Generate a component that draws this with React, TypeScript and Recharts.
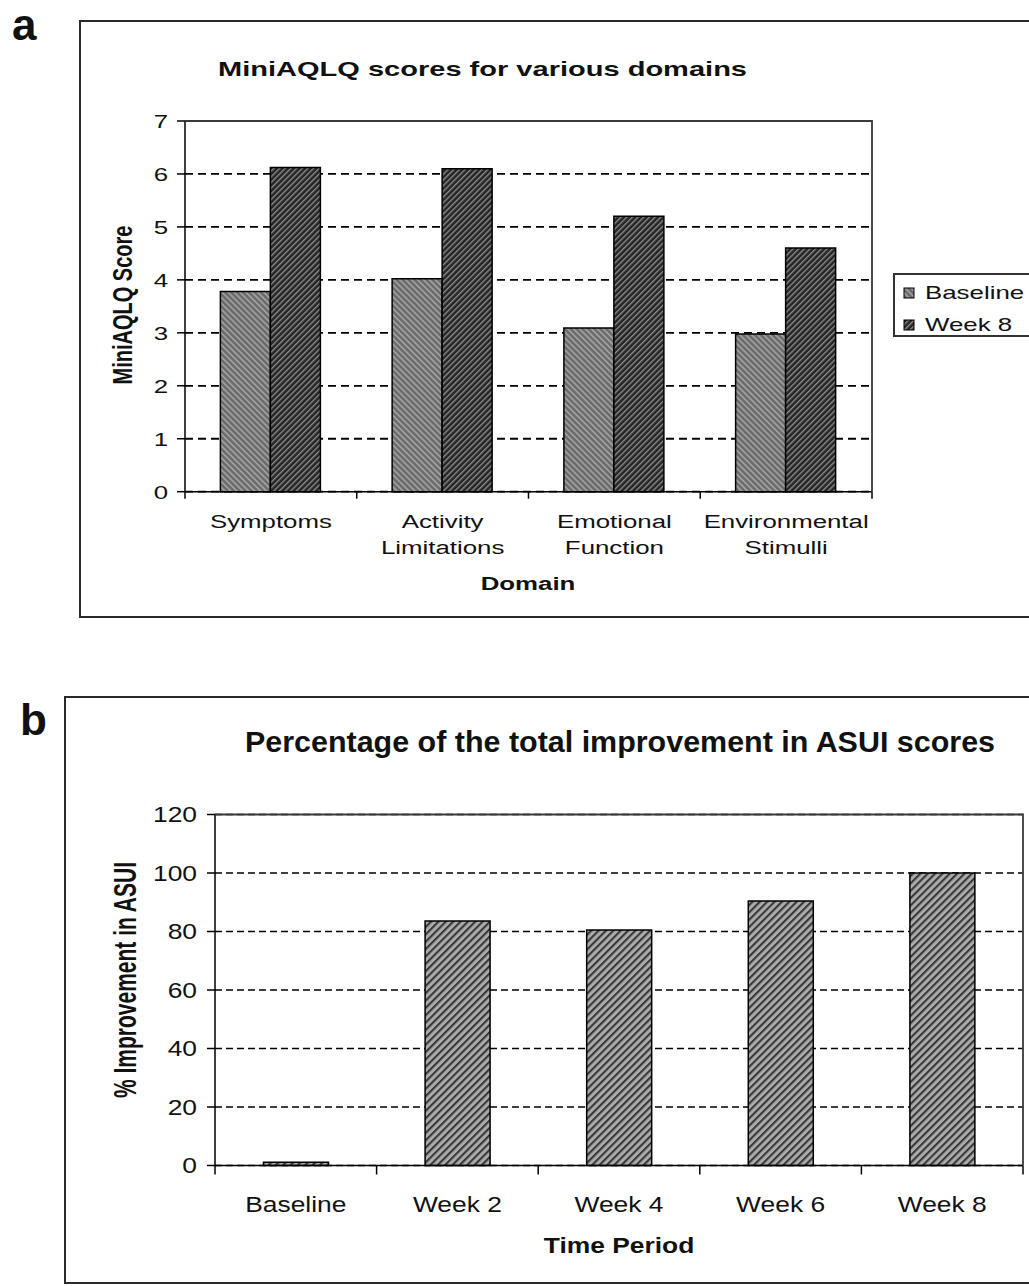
import React from 'react';
import { BarChart, Bar, XAxis, YAxis, CartesianGrid, Legend } from 'recharts';

// ---------- data ----------
const domains = ['Symptoms', 'Activity\nLimitations', 'Emotional\nFunction', 'Environmental\nStimulli'];
const baselineScores = [3.78, 4.02, 3.09, 2.98];
const week8Scores = [6.12, 6.1, 5.2, 4.6];
const scoreTicks = [0, 1, 2, 3, 4, 5, 6, 7];

const periods = ['Baseline', 'Week 2', 'Week 4', 'Week 6', 'Week 8'];
const improvement = [1.1, 83.6, 80.5, 90.4, 100];
const improvementTicks = [0, 20, 40, 60, 80, 100, 120];

const domainData = domains.map((d, i) => ({ domain: d, baseline: baselineScores[i], week8: week8Scores[i] }));
const periodData = periods.map((p, i) => ({ period: p, value: improvement[i] }));

// ---------- layout ----------
const FONT = "'Liberation Sans', Arial, Helvetica, sans-serif";
const W = 1029;
const SX_TOP = 1.36;
const SX_BOT = 1.2;

const TOP_H = 640;
const TOP_PLOT = { left: 185, right: 872, top: 121, bottom: 491.7 };
const BOT_TOP = 660;
const BOT_H = 626;
const BOT_PLOT = { left: 215, right: 1023, top: 814.5 - BOT_TOP, bottom: 1165.5 - BOT_TOP };

const seriesFill: Record<string, string> = {
  baseline: 'url(#topBase)',
  week8: 'url(#topWeek8)',
};

const StretchText = ({ x, y, sx, children, anchor = 'middle', size, weight = 'normal', dy = 0 }: any) => (
  <g transform={`translate(${x},${y}) scale(${sx},1)`}>
    <text x={0} y={0} dy={dy} textAnchor={anchor} fontSize={size} fontWeight={weight} fontFamily={FONT} fill="#111">
      {children}
    </text>
  </g>
);

const YTick = (props: any) => {
  const { x, y, payload, sx, size } = props;
  return (
    <StretchText x={x} y={y} sx={sx} anchor="end" size={size} dy={size * 0.36}>
      {payload.value}
    </StretchText>
  );
};

const makeXTick = (count: number, plotW: number, sx: number, size: number, firstOffset: number, lineH: number, tickLen: number) => (props: any) => {
  const { x, y, payload, index } = props;
  const bw = plotW / count;
  const lines = String(payload.value).split('\n');
  return (
    <g>
      <line x1={x - bw / 2} x2={x - bw / 2} y1={y} y2={y + tickLen} stroke="#000" strokeWidth={1.5} />
      {index === count - 1 && (
        <line x1={x + bw / 2} x2={x + bw / 2} y1={y} y2={y + tickLen} stroke="#000" strokeWidth={1.5} />
      )}
      {lines.map((l, i) => (
        <StretchText key={i} x={x} y={y + firstOffset + i * lineH} sx={sx} size={size}>
          {l}
        </StretchText>
      ))}
    </g>
  );
};

const TopXTick = makeXTick(domains.length, TOP_PLOT.right - TOP_PLOT.left, SX_TOP, 19, 36, 26, 7);
const BotXTick = makeXTick(periods.length, BOT_PLOT.right - BOT_PLOT.left, SX_BOT, 22, 46.5, 26, 9);

const TopLegend = (props: any) => {
  const items = props.payload || [];
  return (
    <div
      style={{
        position: 'relative',
        width: 150,
        height: 64,
        border: '2px solid #333',
        boxSizing: 'border-box',
        background: '#fff',
      }}
    >
      {items.map((it: any, i: number) => (
        <div key={i} style={{ position: 'absolute', left: 8, top: 6 + i * 32, height: 24, display: 'flex', alignItems: 'center' }}>
          <svg width={12} height={12} style={{ display: 'block' }}>
            <rect x={1} y={1} width={10} height={10} fill={seriesFill[it.dataKey] || it.color} stroke="#000" strokeWidth={1} />
          </svg>
          <span
            style={{
              display: 'inline-block',
              marginLeft: 10,
              fontFamily: FONT,
              fontSize: 19,
              color: '#111',
              transform: `scaleX(${SX_TOP})`,
              transformOrigin: 'left center',
              whiteSpace: 'nowrap',
            }}
          >
            {it.value}
          </span>
        </div>
      ))}
    </div>
  );
};

const TopChart = () => (
  <BarChart
    width={W}
    height={TOP_H}
    data={domainData}
    margin={{ top: TOP_PLOT.top, left: TOP_PLOT.left - 60, right: W - TOP_PLOT.right, bottom: TOP_H - TOP_PLOT.bottom - 100 }}
    barCategoryGap="20.6%"
    barGap={0}
  >
    <defs>
      <pattern id="topBase" patternUnits="userSpaceOnUse" width={4.2} height={4.2} patternTransform="rotate(-45)">
        <rect width={4.2} height={4.2} fill="#6c6c6c" />
        <rect width={1.6} height={4.2} fill="#a2a2a2" />
      </pattern>
      <pattern id="topWeek8" patternUnits="userSpaceOnUse" width={4} height={4} patternTransform="rotate(45)">
        <rect width={4} height={4} fill="#242424" />
        <rect width={1.4} height={4} fill="#8c8c8c" />
      </pattern>
    </defs>
    <CartesianGrid vertical={false} stroke="#000" strokeDasharray="8 5" strokeWidth={1.8} />
    <XAxis
      dataKey="domain"
      interval={0}
      height={100}
      tickSize={0}
      tickMargin={0}
      tickLine={false}
      axisLine={{ stroke: '#000', strokeWidth: 1.5 }}
      tick={TopXTick}
    />
    <YAxis
      domain={[0, 7]}
      ticks={scoreTicks}
      interval={0}
      width={60}
      tickSize={8}
      tickMargin={9}
      tickLine={{ stroke: '#000', strokeWidth: 1.5 }}
      axisLine={{ stroke: '#000', strokeWidth: 1.5 }}
      tick={(p: any) => <YTick {...p} sx={SX_TOP} size={19} />}
    />
    <Legend
      layout="vertical"
      align="center"
      verticalAlign="middle"
      content={TopLegend}
      wrapperStyle={{ left: 893, top: 273, width: 150, height: 64 }}
    />
    <Bar dataKey="baseline" name="Baseline" fill="url(#topBase)" stroke="#000" strokeWidth={1.5} isAnimationActive={false} />
    <Bar dataKey="week8" name="Week 8" fill="url(#topWeek8)" stroke="#000" strokeWidth={1.5} isAnimationActive={false} />
  </BarChart>
);

const BottomChart = () => (
  <BarChart
    width={W}
    height={BOT_H}
    data={periodData}
    margin={{ top: BOT_PLOT.top, left: BOT_PLOT.left - 70, right: W - BOT_PLOT.right, bottom: BOT_H - BOT_PLOT.bottom - 100 }}
    barCategoryGap="30%"
    barGap={0}
  >
    <defs>
      <pattern id="botBar" patternUnits="userSpaceOnUse" width={5.2} height={5.2} patternTransform="rotate(45)">
        <rect width={5.2} height={5.2} fill="#ababab" />
        <rect width={2.1} height={5.2} fill="#383838" />
      </pattern>
    </defs>
    <CartesianGrid vertical={false} stroke="#000" strokeDasharray="7 4" strokeWidth={1.6} />
    <XAxis
      dataKey="period"
      interval={0}
      height={100}
      tickSize={0}
      tickMargin={0}
      tickLine={false}
      axisLine={{ stroke: '#000', strokeWidth: 1.5 }}
      tick={BotXTick}
    />
    <YAxis
      domain={[0, 120]}
      ticks={improvementTicks}
      interval={0}
      width={70}
      tickSize={8}
      tickMargin={10}
      tickLine={{ stroke: '#000', strokeWidth: 1.5 }}
      axisLine={{ stroke: '#000', strokeWidth: 1.5 }}
      tick={(p: any) => <YTick {...p} sx={SX_BOT} size={22} />}
    />
    <Bar dataKey="value" name="% Improvement in ASUI" fill="url(#botBar)" stroke="#000" strokeWidth={1.5} isAnimationActive={false} />
  </BarChart>
);

export default function App() {
  return (
    <div
      style={{
        position: 'absolute',
        left: 0,
        top: 0,
        width: W,
        height: 1286,
        overflow: 'hidden',
        background: '#fff',
      }}
    >
      {/* panel frames */}
      <div style={{ position: 'absolute', left: 79, top: 20, width: 1100, height: 598, border: '2px solid #2a2a2a', boxSizing: 'border-box' }} />
      <div style={{ position: 'absolute', left: 64, top: 696, width: 1100, height: 588, border: '2px solid #2a2a2a', boxSizing: 'border-box' }} />

      <div style={{ position: 'absolute', left: 0, top: 0 }}>
        <TopChart />
      </div>
      <div style={{ position: 'absolute', left: 0, top: BOT_TOP }}>
        <BottomChart />
      </div>

      <svg width={W} height={1286} style={{ position: 'absolute', left: 0, top: 0, pointerEvents: 'none' }}>
        {/* plot-area borders (top and right edges) */}
        <polyline
          points={`${TOP_PLOT.left},${TOP_PLOT.top} ${TOP_PLOT.right},${TOP_PLOT.top} ${TOP_PLOT.right},${TOP_PLOT.bottom}`}
          fill="none"
          stroke="#3a3a3a"
          strokeWidth={1.8}
        />
        <polyline
          points={`${BOT_PLOT.left},${BOT_PLOT.top + BOT_TOP} ${BOT_PLOT.right},${BOT_PLOT.top + BOT_TOP} ${BOT_PLOT.right},${BOT_PLOT.bottom + BOT_TOP}`}
          fill="none"
          stroke="#3a3a3a"
          strokeWidth={1.8}
        />

        <text x={12} y={40} fontSize={44} fontWeight="bold" fontFamily={FONT} fill="#111">a</text>
        <text x={20} y={735} fontSize={44} fontWeight="bold" fontFamily={FONT} fill="#111">b</text>

        <text x={482.5} y={76} textAnchor="middle" fontSize={21} fontWeight="bold" fontFamily={FONT} fill="#111" textLength={529} lengthAdjust="spacingAndGlyphs">
          MiniAQLQ scores for various domains
        </text>
        <g transform={`translate(122,305) scale(${SX_TOP},1) rotate(-90)`}>
          <text x={0} y={0} dy={7} textAnchor="middle" fontSize={20} fontWeight="bold" fontFamily={FONT} fill="#111">
            MiniAQLQ Score
          </text>
        </g>
        <StretchText x={528} y={590} sx={SX_TOP} size={19} weight="bold">Domain</StretchText>

        <text x={620} y={752} textAnchor="middle" fontSize={30} fontWeight="bold" fontFamily={FONT} fill="#111" textLength={750} lengthAdjust="spacingAndGlyphs">
          Percentage of the total improvement in ASUI scores
        </text>
        <g transform={`translate(125,980) scale(1.45,1) rotate(-90)`}>
          <text x={0} y={0} dy={7.5} textAnchor="middle" fontSize={21} fontWeight="bold" fontFamily={FONT} fill="#111">
            % Improvement in ASUI
          </text>
        </g>
        <StretchText x={619} y={1253} sx={SX_BOT} size={22} weight="bold">Time Period</StretchText>
      </svg>
    </div>
  );
}
